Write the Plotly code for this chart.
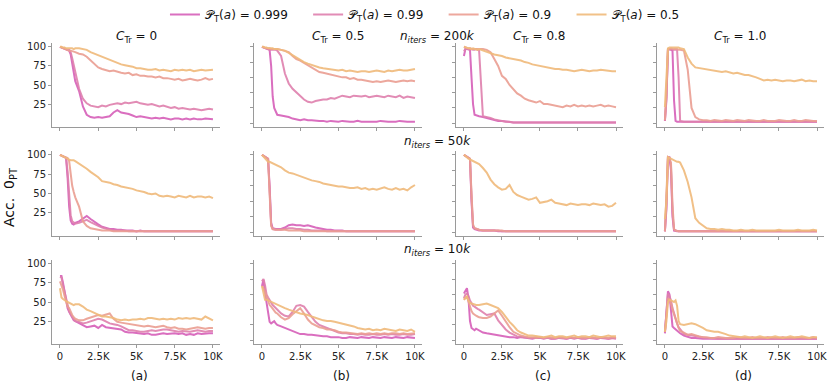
import plotly.graph_objects as go
from plotly.subplots import make_subplots

# training steps (shared by every panel)
steps = [0, 100, 200, 300, 400, 500, 600, 700, 800, 900, 1000,
         1250, 1500, 1750, 2000, 2250, 2500, 2750, 3000, 3250, 3500, 3750, 4000,
         4250, 4500, 4750, 5000, 5250, 5500, 5750, 6000, 6250, 6500, 6750, 7000,
         7250, 7500, 7750, 8000, 8250, 8500, 8750, 9000, 9250, 9500, 9750, 10000]

probs = ["0.999", "0.99", "0.9", "0.5"]
colors = ["#d65fb9", "#df80ae", "#eb9e92", "#f0ba7b"]
c_tr_labels = ["0", "0.5", "0.8", "1.0"]
n_iters_labels = ["200", "50", "10"]
panel_letters = ["(a)", "(b)", "(c)", "(d)"]
x_ticks = [0, 2500, 5000, 7500, 10000]
x_ticktext = ["0", "2.5K", "5K", "7.5K", "10K"]

# ---- n_iters = 200k ----
n200_c0_p999 = [100, 99, 98, 97, 97, 96, 95, 90, 78, 65, 55,
                42, 22, 11, 8, 7, 8, 7, 8, 9, 14, 17, 14,
                13, 12, 10, 8, 9, 8, 7, 6, 7, 6, 7, 6,
                5, 6, 6, 5, 6, 5, 6, 5, 5, 6, 5, 5]
n200_c0_p99 = [100, 99, 98, 97, 97, 96, 96, 93, 85, 75, 65,
               45, 32, 26, 23, 22, 21, 23, 22, 24, 25, 26, 25,
               27, 26, 27, 28, 26, 25, 24, 25, 23, 22, 23, 21,
               20, 21, 19, 20, 19, 18, 19, 18, 17, 18, 19, 18]
n200_c0_p9 = [100, 99, 98, 97, 96, 96, 95, 95, 94, 94, 93,
              91, 90, 87, 82, 78, 73, 71, 70, 68, 69, 67, 66,
              65, 66, 63, 64, 62, 62, 61, 61, 60, 61, 59, 59,
              58, 57, 58, 56, 57, 58, 57, 56, 57, 59, 57, 58]
n200_c0_p5 = [100, 100, 99, 99, 98, 98, 98, 98, 98, 97, 98,
              98, 97, 96, 93, 91, 89, 86, 84, 82, 80, 79, 77,
              76, 75, 74, 72, 72, 71, 70, 70, 71, 69, 70, 69,
              68, 70, 69, 70, 69, 70, 68, 69, 70, 69, 70, 70]

n200_c05_p999 = [100, 99, 98, 97, 96, 96, 75, 35, 20, 14, 11,
                 10, 9, 8, 6, 5, 4, 5, 4, 4, 3, 3, 3,
                 2, 3, 2, 2, 3, 2, 2, 2, 3, 2, 2, 2,
                 2, 2, 3, 2, 2, 2, 2, 3, 2, 2, 2, 2]
n200_c05_p99 = [100, 99, 98, 97, 97, 96, 96, 96, 96, 96, 95,
                88, 65, 52, 45, 40, 35, 31, 28, 27, 29, 30, 31,
                31, 33, 32, 34, 36, 35, 34, 36, 35, 35, 36, 34,
                35, 36, 35, 34, 36, 35, 34, 36, 33, 35, 34, 33]
n200_c05_p9 = [100, 99, 99, 98, 98, 98, 97, 97, 97, 97, 97,
               96, 95, 93, 88, 84, 82, 79, 76, 73, 69, 67, 66,
               65, 64, 62, 61, 60, 60, 58, 59, 57, 57, 56, 55,
               54, 55, 54, 55, 56, 55, 54, 55, 56, 55, 56, 55]
n200_c05_p5 = [100, 100, 99, 99, 98, 98, 98, 98, 97, 97, 97,
               96, 95, 92, 89, 85, 83, 80, 78, 76, 74, 73, 72,
               71, 70, 70, 69, 70, 68, 69, 68, 67, 68, 68, 67,
               68, 69, 68, 67, 69, 68, 69, 70, 69, 69, 70, 71]

n200_c08_p999 = [88, 97, 97, 96, 96, 60, 25, 11, 10, 9, 9,
                 8, 7, 6, 4, 3, 3, 2, 1, 1, 1, 1, 1,
                 1, 1, 1, 1, 1, 1, 1, 1, 1, 1, 1, 1,
                 1, 1, 1, 1, 1, 1, 1, 1, 1, 1, 1, 1]
n200_c08_p99 = [94, 97, 97, 97, 96, 97, 96, 96, 97, 96, 95,
                9, 8, 7, 5, 4, 3, 2, 2, 1, 1, 1, 1,
                1, 1, 1, 1, 1, 1, 1, 1, 1, 1, 1, 1,
                1, 1, 1, 1, 1, 1, 1, 1, 1, 1, 1, 1]
n200_c08_p9 = [100, 99, 99, 98, 98, 97, 97, 97, 97, 97, 97,
               97, 96, 93, 84, 75, 62, 58, 50, 45, 39, 36, 32,
               30, 28, 27, 29, 25, 25, 24, 23, 22, 21, 23, 22,
               24, 22, 23, 22, 23, 22, 23, 24, 22, 23, 22, 21]
n200_c08_p5 = [100, 99, 98, 98, 98, 97, 98, 97, 97, 96, 97,
               95, 94, 92, 90, 89, 88, 86, 85, 84, 83, 82, 80,
               79, 77, 76, 75, 74, 73, 72, 71, 71, 70, 70, 69,
               68, 69, 70, 69, 68, 69, 69, 70, 69, 68, 68, 68]

n200_c10_p999 = [3, 30, 96, 97, 96, 95, 30, 3, 2, 2, 2,
                 2, 2, 2, 2, 2, 2, 2, 2, 2, 2, 2, 2,
                 2, 2, 2, 2, 2, 2, 2, 2, 2, 2, 2, 2,
                 2, 2, 2, 2, 2, 2, 2, 2, 2, 2, 2, 2]
n200_c10_p99 = [3, 35, 96, 97, 97, 96, 96, 96, 96, 60, 3,
                2, 2, 2, 2, 2, 2, 2, 2, 2, 2, 2, 2,
                2, 2, 2, 2, 2, 2, 2, 2, 2, 2, 2, 2,
                2, 2, 2, 2, 2, 2, 2, 2, 2, 2, 2, 2]
n200_c10_p9 = [4, 40, 97, 97, 98, 97, 97, 97, 97, 96, 96,
               95, 70, 20, 8, 5, 4, 4, 3, 4, 3, 3, 4,
               3, 3, 4, 3, 3, 4, 3, 3, 3, 4, 3, 3,
               3, 4, 3, 3, 3, 4, 3, 3, 4, 3, 3, 3]
n200_c10_p5 = [21, 60, 98, 99, 99, 99, 99, 99, 99, 99, 98,
               97, 86, 78, 73, 72, 71, 70, 69, 68, 68, 67, 68,
               66, 65, 66, 64, 63, 63, 62, 60, 58, 56, 57, 56,
               57, 56, 55, 56, 56, 55, 56, 57, 55, 56, 55, 55]

# ---- n_iters = 50k ----
n50_c0_p999 = [100, 99, 98, 97, 96, 70, 33, 15, 11, 10, 12,
               14, 18, 21, 17, 13, 10, 7, 5, 4, 4, 3, 3,
               2, 2, 2, 1, 2, 1, 1, 1, 1, 1, 1, 1,
               1, 1, 1, 1, 1, 1, 1, 1, 1, 1, 1, 1]
n50_c0_p99 = [100, 99, 98, 97, 96, 78, 45, 22, 14, 12, 11,
              12, 14, 16, 13, 10, 8, 6, 4, 3, 2, 2, 2,
              2, 1, 1, 1, 1, 1, 1, 1, 1, 1, 1, 1,
              1, 1, 1, 1, 1, 1, 1, 1, 1, 1, 1, 1]
n50_c0_p9 = [100, 99, 98, 97, 96, 96, 92, 75, 60, 52, 45,
             33, 14, 8, 5, 4, 3, 2, 2, 2, 1, 1, 1,
             1, 1, 1, 1, 1, 1, 1, 1, 1, 1, 1, 1,
             1, 1, 1, 1, 1, 1, 1, 1, 1, 1, 1, 1]
n50_c0_p5 = [100, 99, 97, 96, 95, 94, 94, 93, 93, 93, 92,
             89, 85, 82, 78, 75, 71, 66, 65, 64, 62, 61, 59,
             58, 57, 56, 54, 53, 52, 50, 49, 50, 47, 46, 47,
             46, 45, 47, 46, 45, 47, 45, 46, 46, 45, 46, 44]

n50_c05_p999 = [100, 99, 97, 96, 95, 60, 12, 5, 4, 4, 4,
                4, 6, 9, 10, 9, 9, 8, 9, 7, 6, 5, 4,
                3, 3, 2, 2, 2, 1, 1, 1, 1, 1, 1, 1,
                1, 1, 1, 1, 1, 1, 1, 1, 1, 1, 1, 1]
n50_c05_p99 = [100, 99, 97, 96, 95, 55, 10, 4, 3, 3, 3,
               3, 4, 5, 5, 4, 4, 3, 3, 2, 2, 2, 2,
               1, 1, 1, 1, 1, 1, 1, 1, 1, 1, 1, 1,
               1, 1, 1, 1, 1, 1, 1, 1, 1, 1, 1, 1]
n50_c05_p9 = [100, 99, 97, 96, 95, 50, 8, 4, 3, 3, 3,
              3, 3, 2, 2, 2, 2, 1, 1, 1, 1, 1, 1,
              1, 1, 1, 1, 1, 1, 1, 1, 1, 1, 1, 1,
              1, 1, 1, 1, 1, 1, 1, 1, 1, 1, 1, 1]
n50_c05_p5 = [100, 98, 96, 93, 91, 91, 90, 89, 89, 88, 87,
              84, 80, 77, 76, 74, 72, 70, 69, 67, 66, 65, 63,
              62, 61, 60, 59, 59, 58, 57, 57, 58, 56, 57, 55,
              56, 55, 57, 58, 56, 55, 57, 55, 56, 54, 58, 61]

n50_c08_p999 = [100, 99, 97, 96, 95, 40, 6, 4, 3, 3, 2,
                2, 2, 2, 2, 1, 1, 1, 1, 1, 1, 1, 1,
                1, 1, 1, 1, 1, 1, 1, 1, 1, 1, 1, 1,
                1, 1, 1, 1, 1, 1, 1, 1, 1, 1, 1, 1]
n50_c08_p99 = [100, 99, 97, 96, 95, 45, 8, 5, 4, 3, 3,
               2, 2, 2, 2, 2, 1, 1, 1, 1, 1, 1, 1,
               1, 1, 1, 1, 1, 1, 1, 1, 1, 1, 1, 1,
               1, 1, 1, 1, 1, 1, 1, 1, 1, 1, 1, 1]
n50_c08_p9 = [100, 99, 97, 96, 95, 50, 10, 5, 4, 3, 3,
              2, 2, 2, 2, 2, 2, 1, 1, 1, 1, 1, 1,
              1, 1, 1, 1, 1, 1, 1, 1, 1, 1, 1, 1,
              1, 1, 1, 1, 1, 1, 1, 1, 1, 1, 1, 1]
n50_c08_p5 = [100, 98, 96, 95, 94, 93, 92, 91, 90, 89, 88,
              83, 77, 68, 62, 58, 55, 56, 61, 52, 48, 46, 44,
              42, 43, 45, 38, 39, 40, 42, 38, 37, 36, 35, 37,
              36, 35, 36, 36, 35, 37, 36, 35, 36, 33, 34, 38]

n50_c10_p999 = [1, 30, 97, 97, 80, 20, 2, 1, 1, 1, 1,
                1, 1, 1, 1, 1, 1, 1, 1, 1, 1, 1, 1,
                1, 1, 1, 1, 1, 1, 1, 1, 1, 1, 1, 1,
                1, 1, 1, 1, 1, 1, 1, 1, 1, 1, 1, 1]
n50_c10_p99 = [1, 35, 97, 96, 85, 25, 3, 2, 1, 1, 1,
               1, 1, 1, 1, 1, 1, 1, 1, 1, 1, 1, 1,
               1, 1, 1, 1, 1, 1, 1, 1, 1, 1, 1, 1,
               1, 1, 1, 1, 1, 1, 1, 1, 1, 1, 1, 1]
n50_c10_p9 = [1, 40, 97, 96, 90, 35, 4, 2, 1, 1, 1,
              1, 1, 1, 1, 1, 1, 1, 1, 1, 1, 1, 1,
              1, 1, 1, 1, 1, 1, 1, 1, 1, 1, 1, 1,
              1, 1, 1, 1, 1, 1, 1, 1, 1, 1, 1, 1]
n50_c10_p5 = [17, 40, 97, 96, 94, 93, 92, 92, 91, 91, 90,
              80, 65, 45, 18, 12, 8, 5, 4, 4, 3, 4, 3,
              3, 2, 2, 3, 2, 2, 3, 2, 2, 2, 2, 2,
              2, 3, 2, 2, 2, 2, 3, 2, 2, 2, 3, 2]

# ---- n_iters = 10k ----
n10_c0_p999 = [84, 84, 75, 62, 50, 42, 37, 33, 28, 26, 25,
               22, 20, 17, 18, 19, 16, 20, 17, 16, 15, 14, 14,
               11, 10, 10, 9, 9, 8, 9, 7, 7, 8, 9, 8,
               9, 9, 8, 9, 7, 8, 7, 9, 8, 9, 9, 9]
n10_c0_p99 = [83, 82, 72, 64, 52, 44, 38, 34, 31, 28, 25,
              24, 22, 23, 25, 26, 28, 27, 24, 22, 21, 20, 18,
              16, 13, 13, 12, 11, 11, 12, 13, 12, 13, 14, 14,
              13, 12, 11, 12, 11, 11, 12, 13, 12, 11, 12, 12]
n10_c0_p9 = [77, 72, 66, 58, 50, 44, 42, 37, 33, 30, 28,
             26, 26, 28, 30, 31, 33, 32, 34, 35, 28, 24, 23,
             22, 21, 20, 20, 19, 18, 19, 18, 17, 18, 19, 17,
             16, 17, 15, 15, 14, 15, 16, 17, 16, 15, 16, 16]
n10_c0_p5 = [68, 56, 54, 52, 51, 50, 49, 48, 47, 46, 47,
             47, 44, 40, 38, 36, 33, 31, 31, 30, 29, 27, 26,
             27, 26, 27, 27, 28, 27, 29, 29, 28, 27, 28, 27,
             28, 27, 29, 28, 29, 28, 29, 28, 27, 31, 28, 26]

n10_c05_p999 = [71, 79, 62, 50, 35, 24, 22, 24, 25, 22, 20,
                18, 16, 14, 13, 11, 8, 8, 7, 7, 6, 6, 5,
                5, 4, 4, 4, 3, 3, 4, 3, 3, 4, 3, 3,
                4, 3, 3, 4, 3, 3, 4, 3, 3, 4, 3, 3]
n10_c05_p99 = [77, 80, 72, 60, 56, 52, 49, 46, 44, 42, 40,
               35, 32, 31, 37, 45, 46, 44, 37, 30, 24, 20, 18,
               15, 13, 12, 10, 9, 9, 8, 8, 7, 8, 7, 7,
               8, 7, 7, 8, 7, 8, 7, 7, 8, 7, 7, 8]
n10_c05_p9 = [71, 68, 63, 58, 52, 46, 44, 41, 38, 36, 35,
              30, 27, 29, 34, 38, 42, 35, 27, 22, 19, 17, 16,
              14, 14, 13, 11, 10, 10, 9, 9, 8, 9, 8, 9,
              8, 9, 8, 9, 8, 9, 9, 8, 9, 8, 9, 9]
n10_c05_p5 = [71, 62, 53, 53, 52, 51, 50, 49, 48, 47, 46,
              44, 42, 40, 38, 37, 35, 34, 33, 31, 29, 27, 26,
              25, 25, 24, 23, 21, 20, 19, 18, 16, 15, 14, 15,
              13, 14, 13, 15, 14, 13, 12, 14, 13, 12, 14, 11]

n10_c08_p999 = [61, 65, 68, 55, 25, 16, 14, 13, 15, 14, 12,
                10, 9, 8, 7, 7, 6, 5, 4, 4, 3, 4, 3,
                3, 2, 3, 3, 2, 3, 2, 2, 3, 2, 2, 3,
                2, 3, 2, 2, 3, 2, 2, 3, 2, 2, 3, 2]
n10_c08_p99 = [55, 60, 61, 58, 52, 48, 45, 44, 42, 41, 40,
               37, 33, 34, 35, 26, 20, 14, 10, 7, 5, 4, 3,
               3, 3, 4, 3, 3, 3, 2, 3, 3, 3, 2, 3,
               3, 3, 2, 3, 3, 3, 2, 3, 3, 2, 3, 3]
n10_c08_p9 = [53, 56, 57, 50, 43, 38, 35, 33, 32, 31, 30,
              29, 29, 31, 35, 39, 32, 24, 17, 11, 8, 6, 5,
              4, 4, 3, 4, 3, 4, 3, 3, 4, 3, 3, 4,
              3, 4, 3, 3, 4, 3, 3, 4, 3, 3, 4, 3]
n10_c08_p5 = [53, 55, 57, 52, 49, 48, 47, 47, 46, 46, 46,
              47, 48, 46, 44, 42, 37, 30, 24, 19, 13, 10, 8,
              6, 6, 5, 5, 4, 5, 6, 4, 5, 5, 4, 5,
              6, 4, 5, 5, 4, 6, 5, 4, 5, 6, 5, 5]

n10_c10_p999 = [9, 40, 64, 60, 35, 18, 16, 14, 13, 11, 9,
                6, 4, 3, 3, 2, 2, 2, 2, 2, 2, 2, 2,
                2, 2, 2, 2, 2, 2, 2, 2, 2, 2, 2, 2,
                2, 2, 2, 2, 2, 2, 2, 2, 2, 2, 2, 2]
n10_c10_p99 = [11, 35, 61, 58, 52, 42, 34, 28, 22, 17, 14,
               8, 7, 6, 5, 4, 3, 3, 3, 2, 2, 2, 2,
               2, 2, 2, 2, 2, 2, 2, 2, 2, 2, 2, 2,
               2, 2, 2, 2, 2, 2, 2, 2, 2, 2, 2, 2]
n10_c10_p9 = [11, 30, 55, 53, 48, 40, 33, 28, 22, 16, 12,
              10, 7, 8, 6, 5, 4, 4, 3, 3, 4, 3, 3,
              3, 3, 4, 3, 3, 3, 4, 3, 3, 3, 4, 3,
              3, 3, 4, 3, 3, 3, 4, 3, 3, 3, 4, 3]
n10_c10_p5 = [11, 25, 50, 53, 52, 51, 50, 52, 45, 25, 21,
              20, 21, 22, 21, 19, 16, 13, 12, 11, 11, 10, 8,
              6, 5, 4, 4, 5, 4, 3, 4, 5, 4, 3, 4,
              5, 4, 3, 4, 5, 4, 4, 5, 4, 3, 4, 4]

panels = [
    [(n200_c0_p999, n200_c0_p99, n200_c0_p9, n200_c0_p5),
     (n200_c05_p999, n200_c05_p99, n200_c05_p9, n200_c05_p5),
     (n200_c08_p999, n200_c08_p99, n200_c08_p9, n200_c08_p5),
     (n200_c10_p999, n200_c10_p99, n200_c10_p9, n200_c10_p5)],
    [(n50_c0_p999, n50_c0_p99, n50_c0_p9, n50_c0_p5),
     (n50_c05_p999, n50_c05_p99, n50_c05_p9, n50_c05_p5),
     (n50_c08_p999, n50_c08_p99, n50_c08_p9, n50_c08_p5),
     (n50_c10_p999, n50_c10_p99, n50_c10_p9, n50_c10_p5)],
    [(n10_c0_p999, n10_c0_p99, n10_c0_p9, n10_c0_p5),
     (n10_c05_p999, n10_c05_p99, n10_c05_p9, n10_c05_p5),
     (n10_c08_p999, n10_c08_p99, n10_c08_p9, n10_c08_p5),
     (n10_c10_p999, n10_c10_p99, n10_c10_p9, n10_c10_p5)],
]

W, H = 830, 385
FONT = "DejaVu Sans"
col_px = [(52, 220), (254, 422), (456, 623), (657, 824)]
row_px = [(43, 127), (151, 236), (260, 344)]

fig = make_subplots(rows=3, cols=4)

for r in range(3):
    for c in range(4):
        for k in range(4):
            # trailing spaces widen the gap between legend entries (like matplotlib)
            pad = "&nbsp;" * 4 if k < 3 else ""
            fig.add_trace(go.Scatter(
                x=steps, y=panels[r][c][k], mode='lines',
                name=f"𝒫<sub>T</sub>(<i>a</i>) = {probs[k]}{pad}",
                line=dict(color=colors[k], width=2),
                opacity=0.9,
                showlegend=(r == 0 and c == 0),
                legendgroup=probs[k],
            ), row=r + 1, col=c + 1)

        idx = r * 4 + c + 1
        xa = 'xaxis' if idx == 1 else f'xaxis{idx}'
        ya = 'yaxis' if idx == 1 else f'yaxis{idx}'
        x0, x1 = col_px[c]
        y0, y1 = row_px[r]
        fig.layout[xa].update(
            domain=[x0 / W, x1 / W], range=[-520, 10460],
            tickvals=x_ticks, ticktext=x_ticktext, showticklabels=(r == 2),
            showline=True, linecolor='#9a9a9a', linewidth=1, showgrid=False,
            zeroline=False, ticks='outside', ticklen=3, tickcolor='#9a9a9a',
            tickfont=dict(family=FONT, size=10, color='#222'), automargin=False)
        if c == 0:
            yt = dict(tickvals=[25, 50, 75, 100], showticklabels=True)
        else:
            yt = dict(tickvals=[0, 20, 40, 60, 80, 100], showticklabels=False)
        fig.layout[ya].update(
            domain=[1 - y1 / H, 1 - y0 / H], range=[-5, 105], **yt,
            showline=True, linecolor='#9a9a9a', linewidth=1, showgrid=False,
            zeroline=False, ticks='outside', ticklen=3, tickcolor='#9a9a9a',
            tickfont=dict(family=FONT, size=10, color='#222'), automargin=False)

annotations = []
for c in range(4):
    cx = (col_px[c][0] + col_px[c][1]) / 2 / W
    annotations.append(dict(
        x=cx, y=1 - 37 / H, xref='paper', yref='paper', showarrow=False,
        xanchor='center', yanchor='middle',
        text=f"<i>C</i><sub>Tr</sub> = {c_tr_labels[c]}",
        font=dict(family=FONT, size=12, color='#111')))
    annotations.append(dict(
        x=cx + 3 / W, y=1 - 376 / H, xref='paper', yref='paper', showarrow=False,
        xanchor='center', yanchor='middle',
        text=panel_letters[c], font=dict(family=FONT, size=12, color='#111')))
for r, ypx in enumerate([37, 142, 250]):
    annotations.append(dict(
        x=437 / W, y=1 - ypx / H, xref='paper', yref='paper', showarrow=False,
        xanchor='center', yanchor='middle',
        text=f"<i>n<sub>iters</sub></i> = {n_iters_labels[r]}<i>k</i>",
        font=dict(family=FONT, size=12, color='#111')))
annotations.append(dict(
    x=10 / W, y=1 - 197 / H, xref='paper', yref='paper', showarrow=False,
    xanchor='center', yanchor='middle',
    text="Acc.  0<sub>PT</sub>", textangle=-90,
    font=dict(family=FONT, size=14, color='#111')))

fig.update_layout(
    width=W, height=H,
    margin=dict(l=0, r=0, t=0, b=0, autoexpand=False),
    plot_bgcolor='white', paper_bgcolor='white',
    annotations=annotations,
    legend=dict(orientation='h', x=0.512, xanchor='center', y=1.0, yanchor='top',
                font=dict(family=FONT, size=12, color='#111'),
                itemwidth=30, bgcolor='rgba(0,0,0,0)'),
)

# the page body has a default 8px margin; drop it so the figure sits at (0, 0)
fig.write_html("out.html", config={'displayModeBar': False},
               post_script="document.body.style.margin='0px';")
